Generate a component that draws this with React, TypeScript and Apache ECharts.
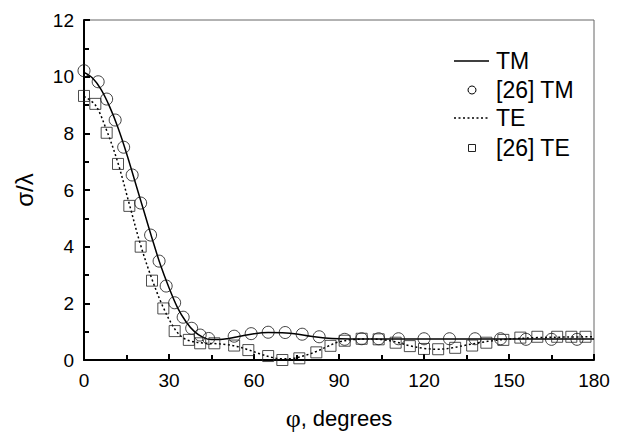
import React, { useEffect, useRef } from "react";
import * as echarts from "echarts";

// Degrees (x) and sigma/lambda (y)
const tmLineX = [0, 3, 6, 9, 12, 15, 18, 21, 24, 27, 30, 33, 36, 39, 42, 45, 48, 51, 55, 60, 65, 70, 75, 80, 85, 90, 100, 120, 140, 160, 180];
const tmLineY = [10.15, 9.95, 9.55, 8.95, 8.2, 7.3, 6.3, 5.3, 4.3, 3.35, 2.55, 1.85, 1.35, 1.0, 0.8, 0.72, 0.72, 0.76, 0.84, 0.93, 0.97, 0.96, 0.92, 0.84, 0.78, 0.75, 0.74, 0.74, 0.74, 0.74, 0.74];

const tmRefX = [0, 5, 8, 11, 14, 17, 20, 23.5, 26.5, 29, 32, 35, 38, 41, 44, 53, 59, 65, 71, 77, 83, 92, 98, 104, 111, 120, 129, 138, 147, 156, 165, 174];
const tmRefY = [10.21, 9.82, 9.21, 8.47, 7.51, 6.53, 5.54, 4.41, 3.49, 2.61, 2.02, 1.51, 1.12, 0.88, 0.76, 0.84, 0.93, 0.98, 0.97, 0.91, 0.82, 0.73, 0.75, 0.75, 0.75, 0.75, 0.75, 0.75, 0.75, 0.73, 0.73, 0.73];

const teLineX = [0, 4, 8, 12, 16, 20, 24, 28, 32, 35, 38, 42, 46, 50, 54, 58, 62, 66, 70, 74, 78, 82, 86, 90, 95, 100, 105, 110, 115, 120, 125, 130, 135, 140, 145, 150, 160, 170, 180];
const teLineY = [9.3, 9.0, 8.1, 6.95, 5.5, 4.05, 2.85, 1.85, 1.1, 0.78, 0.66, 0.6, 0.58, 0.55, 0.48, 0.36, 0.22, 0.1, 0.04, 0.06, 0.16, 0.3, 0.48, 0.64, 0.72, 0.74, 0.72, 0.64, 0.5, 0.41, 0.38, 0.43, 0.53, 0.62, 0.69, 0.74, 0.79, 0.81, 0.82];

const teRefX = [0, 4, 8, 12, 16, 20, 24, 28, 32, 37, 41, 46, 53, 58, 65, 70, 76, 82, 87, 92, 98, 104, 110, 115, 120, 125, 131, 137, 142, 148, 154, 160, 167, 172, 177];
const teRefY = [9.32, 9.04, 8.02, 6.92, 5.44, 4.0, 2.8, 1.82, 1.02, 0.71, 0.59, 0.59, 0.51, 0.35, 0.14, 0.0, 0.06, 0.27, 0.5, 0.68, 0.75, 0.73, 0.61, 0.49, 0.39, 0.38, 0.43, 0.51, 0.61, 0.71, 0.79, 0.82, 0.82, 0.82, 0.82];

const legendNames = ["TM", "[26] TM", "TE", "[26] TE"];

const zip = (xs: number[], ys: number[]) => xs.map((x, i) => [x, ys[i]]);

const FONT = "Arial, 'Liberation Sans', sans-serif";

export default function App() {
  const ref = useRef<HTMLDivElement>(null);
  useEffect(() => {
    if (!ref.current) return;
    const chart = echarts.init(ref.current, undefined, { renderer: "svg" });
    const lx1 = 454, lx2 = 489, tx = 496;
    const rows = [61, 90, 118, 148];
    chart.setOption({
      animation: false,
      backgroundColor: "#fff",
      grid: {
        left: 84, right: 31, top: 20, bottom: 73,
        outerBoundsMode: "none", containLabel: false,
        show: true, borderColor: "#666", borderWidth: 1, backgroundColor: "transparent",
      },
      xAxis: {
        type: "value", min: 0, max: 180, interval: 30,
        name: "{p|\u03c6}, degrees",
        nameLocation: "middle", nameGap: 45,
        nameTextStyle: {
          fontSize: 22, color: "#000", fontFamily: FONT,
          rich: { p: { fontSize: 26, fontFamily: "'Liberation Serif', 'DejaVu Serif', serif", color: "#000" } },
        },
        axisLine: { show: true, onZero: false, lineStyle: { color: "#000", width: 2 } },
        axisTick: { show: true, inside: true, length: 6, lineStyle: { color: "#000", width: 2 } },
        minorTick: { show: true, splitNumber: 2, length: 5, lineStyle: { color: "#000", width: 2 } },
        axisLabel: { fontSize: 19, color: "#000", fontFamily: FONT, margin: 11 },
        splitLine: { show: false },
      },
      yAxis: {
        type: "value", min: 0, max: 12, interval: 2,
        name: "\u03c3/\u03bb",
        nameLocation: "middle", nameGap: 48,
        nameTextStyle: { fontSize: 24, color: "#000", fontFamily: FONT },
        axisLine: { show: true, onZero: false, lineStyle: { color: "#000", width: 2 } },
        axisTick: { show: true, inside: true, length: 6, lineStyle: { color: "#000", width: 2 } },
        minorTick: { show: true, splitNumber: 2, length: 5, lineStyle: { color: "#000", width: 2 } },
        axisLabel: { fontSize: 19, color: "#000", fontFamily: FONT, margin: 10 },
        splitLine: { show: false },
      },
      series: [
        {
          name: legendNames[0], type: "line", data: zip(tmLineX, tmLineY),
          symbol: "none", smooth: 0.35, lineStyle: { color: "#000", width: 1.5 }, z: 3,
        },
        {
          name: legendNames[1], type: "scatter", data: zip(tmRefX, tmRefY),
          symbol: "circle", symbolSize: 12,
          itemStyle: { color: "rgba(0,0,0,0)", borderColor: "#111", borderWidth: 1 }, z: 4,
        },
        {
          name: legendNames[2], type: "line", data: zip(teLineX, teLineY),
          symbol: "none", smooth: 0.35, lineStyle: { color: "#000", width: 1.5, type: [2, 2.5] }, z: 3,
        },
        {
          name: legendNames[3], type: "scatter", data: zip(teRefX, teRefY),
          symbol: "rect", symbolSize: 11,
          itemStyle: { color: "rgba(0,0,0,0)", borderColor: "#222", borderWidth: 1 }, z: 4,
        },
      ],
      graphic: [
        { type: "line", shape: { x1: lx1, y1: rows[0], x2: lx2, y2: rows[0] }, style: { stroke: "#000", lineWidth: 1.5 } },
        { type: "circle", shape: { cx: 472, cy: rows[1], r: 4 }, style: { stroke: "#000", fill: "none", lineWidth: 1 } },
        { type: "line", shape: { x1: lx1, y1: rows[2], x2: lx2, y2: rows[2] }, style: { stroke: "#000", lineWidth: 1.5, lineDash: [2, 2.5] } },
        { type: "rect", shape: { x: 468.5, y: rows[3] - 3.5, width: 7, height: 7 }, style: { stroke: "#222", fill: "none", lineWidth: 1 } },
        ...legendNames.map((n, i) => ({
          type: "text", x: tx, y: rows[i],
          style: { text: n, fontSize: 23, fontFamily: FONT, fill: "#000", verticalAlign: "middle", align: "left" },
        })),
      ],
    });
    return () => chart.dispose();
  }, []);
  return <div ref={ref} style={{ position: "fixed", left: 0, top: 0, width: 625, height: 433 }} />;
}
